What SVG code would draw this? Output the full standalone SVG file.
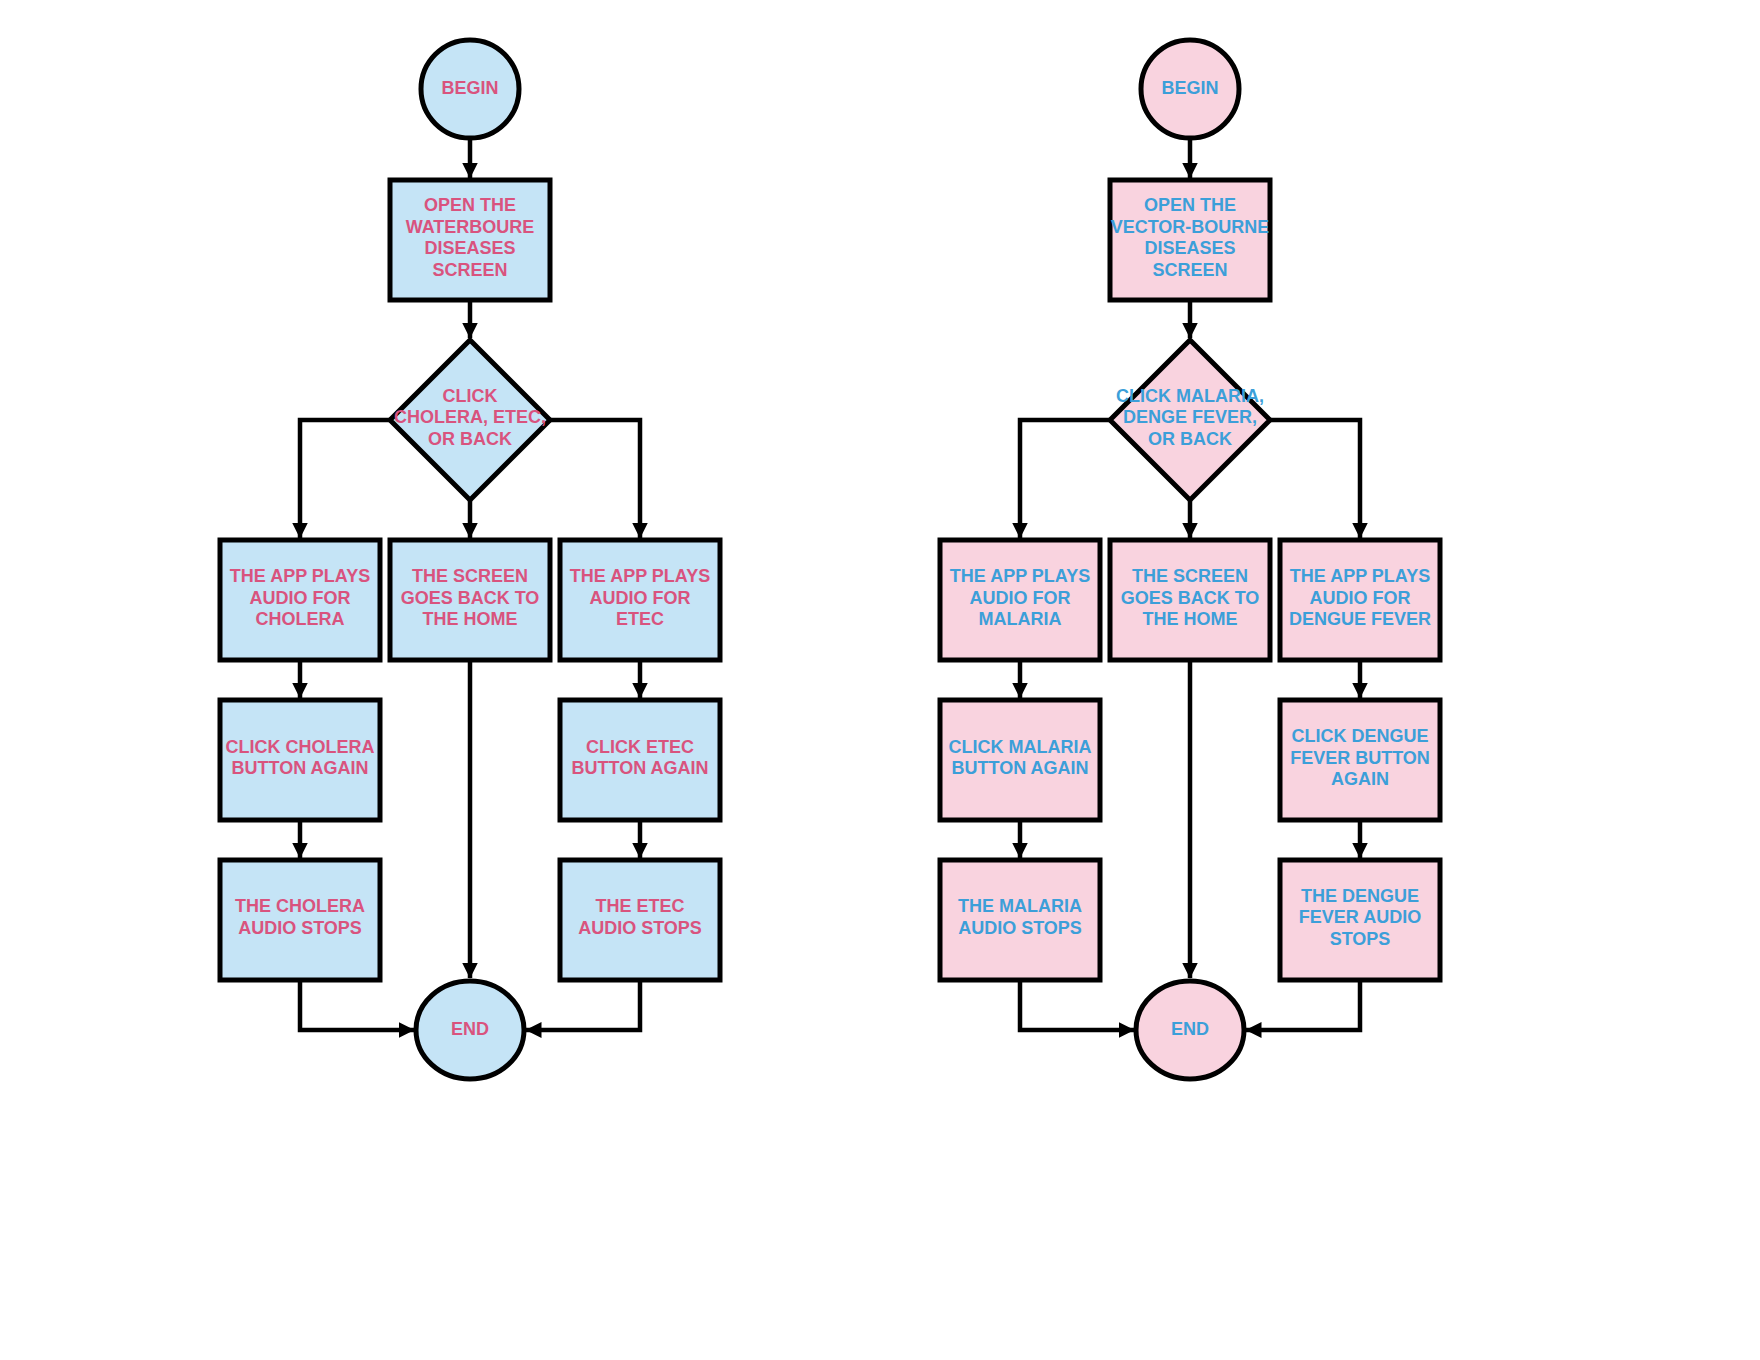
<svg xmlns="http://www.w3.org/2000/svg" width="1760" height="1360" viewBox="0 0 1760 1360">
<style>
.bl{fill:#C5E4F6;stroke:#000;stroke-width:5}
.pk{fill:#F9D3DF;stroke:#000;stroke-width:5}
.tp{fill:#D9537E;font-family:"Liberation Sans",Arial,sans-serif;font-weight:bold;font-size:18px;text-anchor:middle}
.tb{fill:#3C9FD9;font-family:"Liberation Sans",Arial,sans-serif;font-weight:bold;font-size:18px;text-anchor:middle}
.c{fill:none;stroke:#000;stroke-width:4.5;marker-end:url(#ah)}
</style>
<defs>
<marker id="ah" viewBox="0 0 16 16" refX="15.5" refY="8" markerWidth="16" markerHeight="16" markerUnits="userSpaceOnUse" orient="auto">
<path d="M0,0 L16,8 L0,16 z" fill="#000"/>
</marker>
</defs>
<rect width="1760" height="1360" fill="#fff"/>

<g id="connectors">
<path class="c" d="M470,138 V178"/>
<path class="c" d="M470,300 V338"/>
<path class="c" d="M470,500 V538"/>
<path class="c" d="M390,420 H300 V538"/>
<path class="c" d="M550,420 H640 V538"/>
<path class="c" d="M300,660 V698"/>
<path class="c" d="M300,820 V858"/>
<path class="c" d="M640,660 V698"/>
<path class="c" d="M640,820 V858"/>
<path class="c" d="M470,660 V978"/>
<path class="c" d="M300,980 V1030 H414"/>
<path class="c" d="M640,980 V1030 H526"/>

<path class="c" d="M1190,138 V178"/>
<path class="c" d="M1190,300 V338"/>
<path class="c" d="M1190,500 V538"/>
<path class="c" d="M1110,420 H1020 V538"/>
<path class="c" d="M1270,420 H1360 V538"/>
<path class="c" d="M1020,660 V698"/>
<path class="c" d="M1020,820 V858"/>
<path class="c" d="M1360,660 V698"/>
<path class="c" d="M1360,820 V858"/>
<path class="c" d="M1190,660 V978"/>
<path class="c" d="M1020,980 V1030 H1134"/>
<path class="c" d="M1360,980 V1030 H1246"/>
</g>

<!-- Left chart -->
<g id="L_begin"><circle class="bl" cx="470" cy="89" r="49"/><text class="tp" x="470" y="94">BEGIN</text></g>
<g id="L_open"><rect class="bl" x="390" y="180" width="160" height="120"/>
<text class="tp" x="470" y="211">OPEN THE</text><text class="tp" x="470" y="232.5">WATERBOURE</text><text class="tp" x="470" y="254">DISEASES</text><text class="tp" x="470" y="275.5">SCREEN</text></g>
<g id="L_decision"><path class="bl" d="M470,340 L550,420 L470,500 L390,420 Z"/>
<text class="tp" x="470" y="401.5">CLICK</text><text class="tp" x="470" y="423">CHOLERA, ETEC,</text><text class="tp" x="470" y="444.5">OR BACK</text></g>
<g id="L_play1"><rect class="bl" x="220" y="540" width="160" height="120"/>
<text class="tp" x="300" y="582">THE APP PLAYS</text><text class="tp" x="300" y="603.5">AUDIO FOR</text><text class="tp" x="300" y="625">CHOLERA</text></g>
<g id="L_back"><rect class="bl" x="390" y="540" width="160" height="120"/>
<text class="tp" x="470" y="582">THE SCREEN</text><text class="tp" x="470" y="603.5">GOES BACK TO</text><text class="tp" x="470" y="625">THE HOME</text></g>
<g id="L_play2"><rect class="bl" x="560" y="540" width="160" height="120"/>
<text class="tp" x="640" y="582">THE APP PLAYS</text><text class="tp" x="640" y="603.5">AUDIO FOR</text><text class="tp" x="640" y="625">ETEC</text></g>
<g id="L_click1"><rect class="bl" x="220" y="700" width="160" height="120"/>
<text class="tp" x="300" y="752.5">CLICK CHOLERA</text><text class="tp" x="300" y="774">BUTTON AGAIN</text></g>
<g id="L_click2"><rect class="bl" x="560" y="700" width="160" height="120"/>
<text class="tp" x="640" y="752.5">CLICK ETEC</text><text class="tp" x="640" y="774">BUTTON AGAIN</text></g>
<g id="L_stop1"><rect class="bl" x="220" y="860" width="160" height="120"/>
<text class="tp" x="300" y="912">THE CHOLERA</text><text class="tp" x="300" y="933.5">AUDIO STOPS</text></g>
<g id="L_stop2"><rect class="bl" x="560" y="860" width="160" height="120"/>
<text class="tp" x="640" y="912">THE ETEC</text><text class="tp" x="640" y="933.5">AUDIO STOPS</text></g>
<g id="L_end"><ellipse class="bl" cx="470" cy="1030" rx="54" ry="49"/><text class="tp" x="470" y="1034.5">END</text></g>

<!-- Right chart -->
<g id="R_begin"><circle class="pk" cx="1190" cy="89" r="49"/><text class="tb" x="1190" y="94">BEGIN</text></g>
<g id="R_open"><rect class="pk" x="1110" y="180" width="160" height="120"/>
<text class="tb" x="1190" y="211">OPEN THE</text><text class="tb" x="1190" y="232.5">VECTOR-BOURNE</text><text class="tb" x="1190" y="254">DISEASES</text><text class="tb" x="1190" y="275.5">SCREEN</text></g>
<g id="R_decision"><path class="pk" d="M1190,340 L1270,420 L1190,500 L1110,420 Z"/>
<text class="tb" x="1190" y="401.5">CLICK MALARIA,</text><text class="tb" x="1190" y="423">DENGE FEVER,</text><text class="tb" x="1190" y="444.5">OR BACK</text></g>
<g id="R_play1"><rect class="pk" x="940" y="540" width="160" height="120"/>
<text class="tb" x="1020" y="582">THE APP PLAYS</text><text class="tb" x="1020" y="603.5">AUDIO FOR</text><text class="tb" x="1020" y="625">MALARIA</text></g>
<g id="R_back"><rect class="pk" x="1110" y="540" width="160" height="120"/>
<text class="tb" x="1190" y="582">THE SCREEN</text><text class="tb" x="1190" y="603.5">GOES BACK TO</text><text class="tb" x="1190" y="625">THE HOME</text></g>
<g id="R_play2"><rect class="pk" x="1280" y="540" width="160" height="120"/>
<text class="tb" x="1360" y="582">THE APP PLAYS</text><text class="tb" x="1360" y="603.5">AUDIO FOR</text><text class="tb" x="1360" y="625">DENGUE FEVER</text></g>
<g id="R_click1"><rect class="pk" x="940" y="700" width="160" height="120"/>
<text class="tb" x="1020" y="752.5">CLICK MALARIA</text><text class="tb" x="1020" y="774">BUTTON AGAIN</text></g>
<g id="R_click2"><rect class="pk" x="1280" y="700" width="160" height="120"/>
<text class="tb" x="1360" y="742">CLICK DENGUE</text><text class="tb" x="1360" y="763.5">FEVER BUTTON</text><text class="tb" x="1360" y="785">AGAIN</text></g>
<g id="R_stop1"><rect class="pk" x="940" y="860" width="160" height="120"/>
<text class="tb" x="1020" y="912">THE MALARIA</text><text class="tb" x="1020" y="933.5">AUDIO STOPS</text></g>
<g id="R_stop2"><rect class="pk" x="1280" y="860" width="160" height="120"/>
<text class="tb" x="1360" y="901.5">THE DENGUE</text><text class="tb" x="1360" y="923">FEVER AUDIO</text><text class="tb" x="1360" y="944.5">STOPS</text></g>
<g id="R_end"><ellipse class="pk" cx="1190" cy="1030" rx="54" ry="49"/><text class="tb" x="1190" y="1034.5">END</text></g>
</svg>
